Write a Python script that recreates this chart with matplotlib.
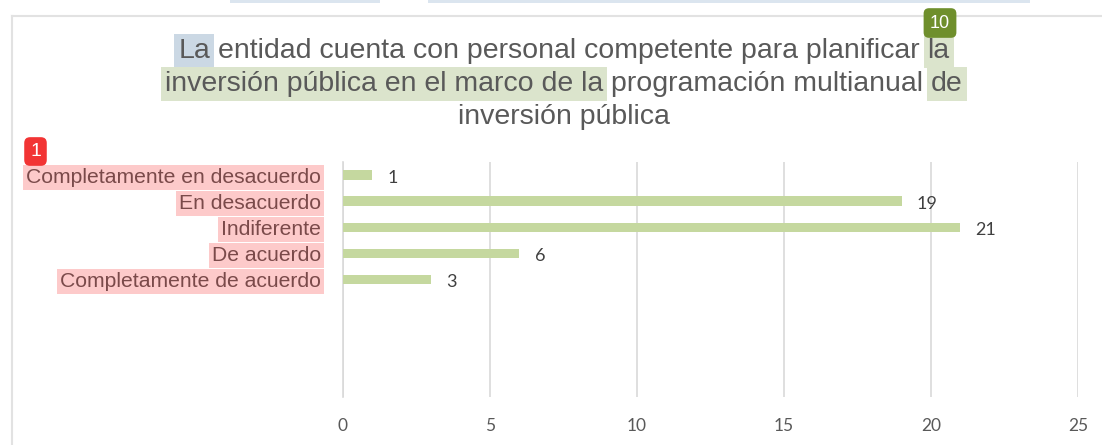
import matplotlib
matplotlib.use('Agg')
import matplotlib.pyplot as plt

# chart data
categories = ['Completamente en desacuerdo', 'En desacuerdo', 'Indiferente',
              'De acuerdo', 'Completamente de acuerdo']
counts = [1, 19, 21, 6, 3]
x_ticks = [0, 5, 10, 15, 20, 25]

BLUE_HL = '#cbd8e4'
GREEN_HL = '#dbe4cc'
PINK_HL = '#fdcaca'

title_lines = [
    [('La', BLUE_HL), ('entidad cuenta con personal competente para planificar', None), ('la', GREEN_HL)],
    [('inversión pública en el marco de la', GREEN_HL), ('programación multianual', None), ('de', GREEN_HL)],
    [('inversión pública', None)],
]

W, H = 1102, 445
fig = plt.figure(figsize=(W / 100, H / 100), dpi=100)
fig.patch.set_facecolor('white')

ax = fig.add_axes([343 / W, 1 - 397 / H, (1078 - 343) / W, (397 - 162) / H])
ypos = list(range(len(categories)))
bars = ax.barh(ypos, counts, height=0.36, color='#c5d89f', zorder=3)
ax.set_xlim(0, 25)
ax.set_ylim(8.5, -0.5)
ax.set_xticks(x_ticks)
ax.set_xticklabels([str(t) for t in x_ticks], fontfamily='Lato', fontsize=12.5, color='#595959')
ax.set_yticks(ypos)
ax.set_yticklabels(categories, fontfamily='Liberation Sans', fontsize=15.2, color='#7a4a4a')
for lab in ax.get_yticklabels():
    lab.set_bbox(dict(boxstyle='square,pad=0.14', facecolor=PINK_HL, edgecolor='none'))
ax.tick_params(axis='both', length=0)
ax.tick_params(axis='y', pad=16)
ax.tick_params(axis='x', pad=15)
ax.grid(axis='x', color='#d9d9d9', linewidth=1.2, zorder=0)
for side in ['top', 'right', 'bottom']:
    ax.spines[side].set_visible(False)
ax.spines['left'].set_color('#d9d9d9')
ax.spines['left'].set_linewidth(1.2)

for b, v in zip(bars, counts):
    ax.annotate(str(v), (b.get_width(), b.get_y() + b.get_height() / 2),
                xytext=(11, -2), textcoords='offset points', va='center', ha='left',
                fontfamily='Lato', fontsize=13, color='#404040')

# outer frame of the chart box
fig.add_artist(plt.Line2D([12 / W, 12 / W], [0, 1 - 16 / H], transform=fig.transFigure,
                          color='#e2e2e2', linewidth=1.5))
fig.add_artist(plt.Line2D([12 / W, 1], [1 - 16 / H, 1 - 16 / H], transform=fig.transFigure,
                          color='#e2e2e2', linewidth=1.5))
# remnants of highlights from the page above
fig.add_artist(plt.Rectangle((230 / W, 1 - 3 / H), 150 / W, 3 / H, transform=fig.transFigure,
                             facecolor='#dbe5ef', edgecolor='none'))
fig.add_artist(plt.Rectangle((428 / W, 1 - 3 / H), 602 / W, 3 / H, transform=fig.transFigure,
                             facecolor='#dbe5ef', edgecolor='none'))

# title, built piece by piece so words can carry highlights
fig.canvas.draw()
r = fig.canvas.get_renderer()
tkw = dict(fontfamily='Liberation Sans', fontsize=20.5, color='#595959')


def text_w(s):
    t = fig.text(0, 0, s, **tkw)
    w = t.get_window_extent(r).width
    t.remove()
    return w


space_w = text_w('a a') - text_w('aa')
center_x = 564
line_y = [51, 84, 117]
for segs, y in zip(title_lines, line_y):
    widths = [text_w(s) for s, _ in segs]
    total = sum(widths) + space_w * (len(segs) - 1)
    x = center_x - total / 2
    for (s, hl), w in zip(segs, widths):
        kw = dict(tkw)
        if hl:
            kw['bbox'] = dict(boxstyle='square,pad=0.14', facecolor=hl, edgecolor='none')
        fig.text(x / W, 1 - y / H, s, ha='left', va='center', **kw)
        x += w + space_w

# annotation badges
fig.text(940 / W, 1 - 23 / H, '10', ha='center', va='center', color='white',
         fontfamily='Liberation Sans', fontsize=13,
         bbox=dict(boxstyle='round,pad=0.35,rounding_size=0.3', facecolor='#6f8f2c', edgecolor='none'),
         zorder=5)
fig.text(35.5 / W, 1 - 151.5 / H, '1', ha='center', va='center', color='white',
         fontfamily='Liberation Sans', fontsize=14,
         bbox=dict(boxstyle='round,pad=0.3,rounding_size=0.3', facecolor='#f23434', edgecolor='none'),
         zorder=5)

fig.savefig('out.png', dpi=100)
